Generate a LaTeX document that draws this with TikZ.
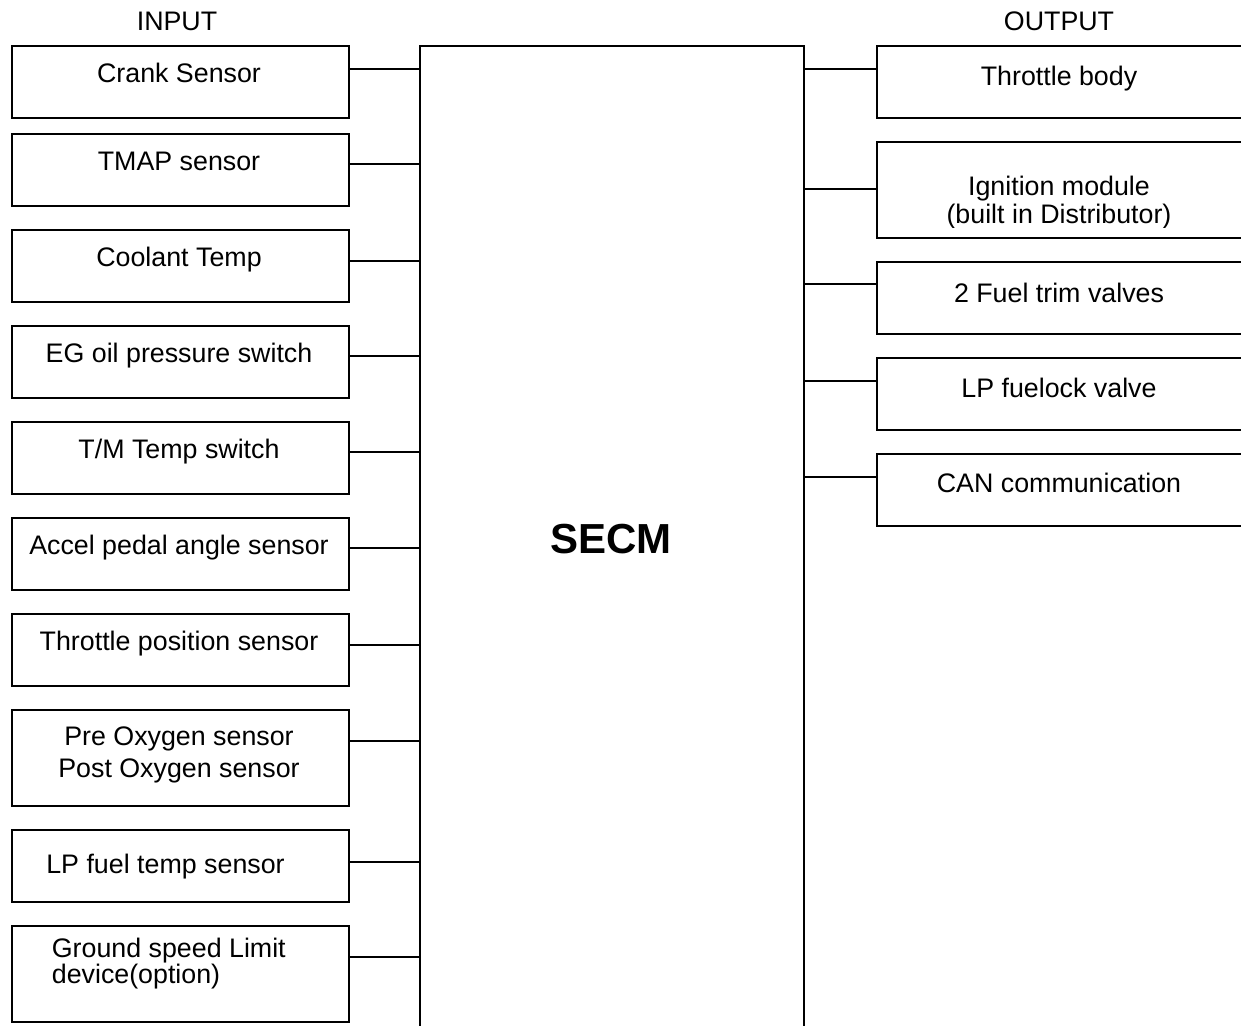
\documentclass[tikz,border=0pt]{standalone}
\usepackage{fontspec}
\setmainfont{Liberation Sans}
\begin{document}
\begin{tikzpicture}[x=1pt,y=-1pt,line width=1.7pt,
  box/.style={draw,rectangle,inner sep=0pt,anchor=north west},
  lbl/.style={font=\fontsize{26.8}{32}\selectfont,inner sep=0pt,anchor=base},
  lblleft/.style={lbl,anchor=base west},
  title/.style={font=\fontsize{42}{48}\selectfont\bfseries,inner sep=0pt,anchor=base}]
\useasboundingbox (0,0) rectangle (1241,1025);
\clip (0,0) rectangle (1241,1025);

% headings
\node[lbl] (inhead) at (177,31) {INPUT};
\node[lbl] (outhead) at (1059,31) {OUTPUT};

% control module
\node[box,minimum width=384pt,minimum height=1100pt] (secm) at (419,45) {};
\node[title] (secmlbl) at (611,553) {SECM};

% input boxes: index / top / height / connector y
\foreach \i/\t/\h/\c in {1/45/72/69, 2/133/72/164, 3/229/72/261, 4/325/72/356,
    5/421/72/452, 6/517/72/548, 7/613/72/645, 8/709/96/741, 9/829/72/862,
    10/925/96/957}{
  \node[box,minimum width=337pt,minimum height=\h pt] (in\i) at (11,\t) {};
  \coordinate (ci\i) at (0,\c);
  \draw (in\i.east |- ci\i) -- (secm.west |- ci\i);
}

% input labels
\node[lbl] (t1) at (179,82) {Crank Sensor};
\node[lbl] (t2) at (179,170) {TMAP sensor};
\node[lbl] (t3) at (179,266) {Coolant Temp};
\node[lbl] (t4) at (179,362) {EG oil pressure switch};
\node[lbl] (t5) at (179,458) {T/M Temp switch};
\node[lbl] (t6) at (179,554) {Accel pedal angle sensor};
\node[lbl] (t7) at (179,650) {Throttle position sensor};
\node[lbl] (t8a) at (179,745) {Pre Oxygen sensor};
\node[lbl] (t8b) at (179,777) {Post Oxygen sensor};
\node[lbl] (t9) at (165.5,873) {LP fuel temp sensor};
\node[lblleft] (t10a) at (51,957) {Ground speed Limit};
\node[lblleft] (t10b) at (51,983) {device(option)};

% output boxes: index / top / height / connector y
\foreach \i/\t/\h/\c in {1/45/72/69, 2/141/96/189, 3/261/72/284, 4/357/72/381,
    5/453/72/477}{
  \node[box,minimum width=420pt,minimum height=\h pt] (out\i) at (876,\t) {};
  \coordinate (co\i) at (0,\c);
  \draw (secm.east |- co\i) -- (out\i.west |- co\i);
}

% output labels
\node[lbl] (u1) at (1059,85) {Throttle body};
\node[lbl] (u2a) at (1059,195) {Ignition module};
\begin{scope}
  \clip (876,141) rectangle (1241,227);
  \node[lbl] (u2b) at (1059,223) {(built in Distributor)};
\end{scope}
\node[lbl] (u3) at (1059,302) {2 Fuel trim valves};
\node[lbl] (u4) at (1059,397) {LP fuelock valve};
\node[lbl] (u5) at (1059,492) {CAN communication};
\end{tikzpicture}
\end{document}
